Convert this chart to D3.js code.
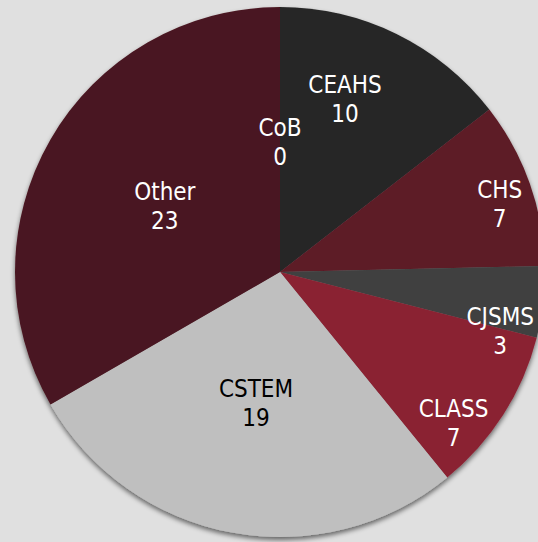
<!DOCTYPE html>
<html><head><meta charset="utf-8">
<script src="https://cdn.jsdelivr.net/npm/d3@7"></script>
<style>html,body{margin:0;padding:0;background:#e0e0e0;overflow:hidden}</style>
</head><body>
<script>
const categories = ["CEAHS","CHS","CJSMS","CLASS","CSTEM","Other","CoB"];
const values = [10,7,3,7,19,23,0];
const colors = ["#262626","#5d1a25","#404040","#8a2233","#bfbfbf","#4a1520","#4a1520"];
const textColors = ["#fff","#fff","#fff","#fff","#000","#fff","#fff"];
// label placement (angle in degrees from 12 o'clock, radius in px) chosen to mimic reference
const labelAngle = [20.6,72.8,105,131,190.4,300,0];
const labelRadius = [185,230,228,230,133,133,130];

const W=538,H=542,cx=280,cy=272,R=265;
const svg=d3.select("body").append("svg").attr("width",W).attr("height",H);
svg.append("rect").attr("width",W).attr("height",H).attr("fill","#e0e0e0");
const defs=svg.append("defs");
const f=defs.append("filter").attr("id","sh").attr("x","-20%").attr("y","-20%").attr("width","140%").attr("height","140%");
f.append("feGaussianBlur").attr("in","SourceAlpha").attr("stdDeviation",2.5).attr("result","b");
f.append("feOffset").attr("in","b").attr("dx",0).attr("dy",3).attr("result","o");
f.append("feComponentTransfer").attr("in","o").attr("result","o2").append("feFuncA").attr("type","linear").attr("slope",0.55);
const m=f.append("feMerge");m.append("feMergeNode").attr("in","o2");m.append("feMergeNode").attr("in","SourceGraphic");

const data=categories.map((c,i)=>({cat:c,val:values[i],i}));
const pie=d3.pie().sort(null).value(d=>d.val);
const arcs=pie(data);
const arc=d3.arc().innerRadius(0).outerRadius(R);
const g=svg.append("g").attr("transform",`translate(${cx},${cy})`);
g.append("g").attr("filter","url(#sh)").selectAll("path").data(arcs).join("path")
 .attr("d",arc).attr("fill",d=>colors[d.data.i]);

const lg=g.append("g").attr("font-family","DejaVu Sans Condensed, DejaVu Sans, sans-serif")
  .attr("font-stretch","condensed").attr("font-size",24).attr("text-anchor","middle");
arcs.forEach(a=>{
  const i=a.data.i;
  const ang=labelAngle[i]*Math.PI/180, r=labelRadius[i];
  const x=r*Math.sin(ang), y=-r*Math.cos(ang);
  const t=lg.append("text").attr("fill",textColors[i]);
  t.append("tspan").attr("x",x).attr("y",y-6).text(a.data.cat);
  t.append("tspan").attr("x",x).attr("y",y+23).text(a.data.val);
});
</script>
</body></html>
